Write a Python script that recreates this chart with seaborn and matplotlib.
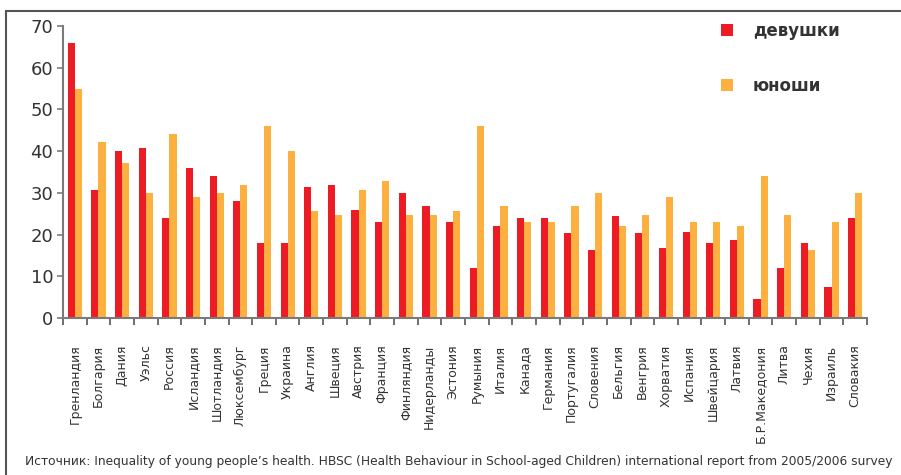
import matplotlib
matplotlib.use("Agg")
import matplotlib.pyplot as plt
from matplotlib.lines import Line2D
import numpy as np
import pandas as pd
import seaborn as sns

countries = [
    "Гренландия", "Болгария", "Дания", "Уэльс", "Россия", "Исландия",
    "Шотландия", "Люксембург", "Греция", "Украина", "Англия", "Швеция",
    "Австрия", "Франция", "Финляндия", "Нидерланды", "Эстония", "Румыния",
    "Италия", "Канада", "Германия", "Португалия", "Словения", "Бельгия",
    "Венгрия", "Хорватия", "Испания", "Швейцария", "Латвия",
    "Б.Р.Македония", "Литва", "Чехия", "Израиль", "Словакия",
]
girls = [
    66, 30.6, 40, 40.7, 24, 36,
    34, 28, 18, 18, 31.3, 31.8,
    26, 23, 30, 26.8, 23, 12,
    22, 24, 24, 20.3, 16.4, 24.4,
    20.3, 16.9, 20.5, 18, 18.8,
    4.6, 12, 18, 7.5, 24,
]
boys = [
    55, 42.1, 37.1, 30, 44.1, 29,
    30, 32, 46, 40, 25.6, 24.8,
    30.6, 32.8, 24.8, 24.8, 25.6, 46,
    26.8, 23, 23, 26.8, 30, 22,
    24.8, 29, 23, 23, 22,
    34, 24.8, 16.4, 23, 30,
]
series_names = ["девушки", "юноши"]
series_colors = ["#ED1C24", "#FBB040"]
y_ticks = [0, 10, 20, 30, 40, 50, 60, 70]
source_note = ("Источник: Inequality of young people’s health. HBSC (Health Behaviour in "
               "School-aged Children) international report from 2005/2006 survey")

df = pd.DataFrame({
    "country": countries * 2,
    "value": girls + boys,
    "group": [series_names[0]] * len(countries) + [series_names[1]] * len(countries),
})

sns.set_style("white")
plt.rcParams["font.family"] = ["DejaVu Sans"]

W, H = 901, 475
fig = plt.figure(figsize=(W / 100, H / 100), dpi=100)
ax = fig.add_axes([63 / W, 1 - 318 / H, (867 - 63) / W, (318 - 26) / H])

sns.barplot(data=df, x="country", y="value", hue="group", order=countries,
            hue_order=series_names, palette=series_colors, width=0.6,
            saturation=1, ax=ax, linewidth=0)

ax.set_xlim(-0.5, len(countries) - 0.5)
ax.set_ylim(0, 70)
ax.set_xlabel("")
ax.set_ylabel("")

axis_gray = "#7a7a7a"
for side in ("top", "right"):
    ax.spines[side].set_visible(False)
for side in ("left", "bottom"):
    ax.spines[side].set_color(axis_gray)
    ax.spines[side].set_linewidth(1.5)

ax.set_yticks(y_ticks)
ax.set_yticklabels([str(v) for v in y_ticks])
ax.tick_params(axis="y", direction="out", length=4, width=1.2, color=axis_gray,
               labelsize=13, labelcolor="#333333", pad=3, left=True)

ax.set_xticks(np.arange(len(countries)))
ax.set_xticklabels(countries, rotation=90, ha="center", va="top")
ax.tick_params(axis="x", which="major", length=0, labelsize=9,
               labelcolor="#333333", pad=19)
ax.set_xticks(np.arange(len(countries) + 1) - 0.5, minor=True)
ax.tick_params(axis="x", which="minor", direction="out", length=5, width=1.2,
               color="#555555", bottom=True)

sns.move_legend(ax, "upper left", bbox_to_anchor=(0.80, 1.065), frameon=False,
                title=None, handlelength=0.7, handleheight=0.7,
                labelspacing=2.2, handletextpad=1.2,
                prop={"weight": "bold", "size": 12})
for t in ax.get_legend().get_texts():
    t.set_color("#333333")

# page frame around the figure
frame_color = "#555555"
fig.add_artist(Line2D([6 / W, 6 / W], [0, 1 - 11 / H], transform=fig.transFigure,
                      color=frame_color, lw=1.5))
fig.add_artist(Line2D([6 / W, 1], [1 - 11 / H, 1 - 11 / H], transform=fig.transFigure,
                      color=frame_color, lw=1.5))

fig.text(25 / W, 1 - 462 / H, source_note, fontsize=8.8, color="#333333",
         ha="left", va="center")

fig.savefig("out.png", dpi=100)
